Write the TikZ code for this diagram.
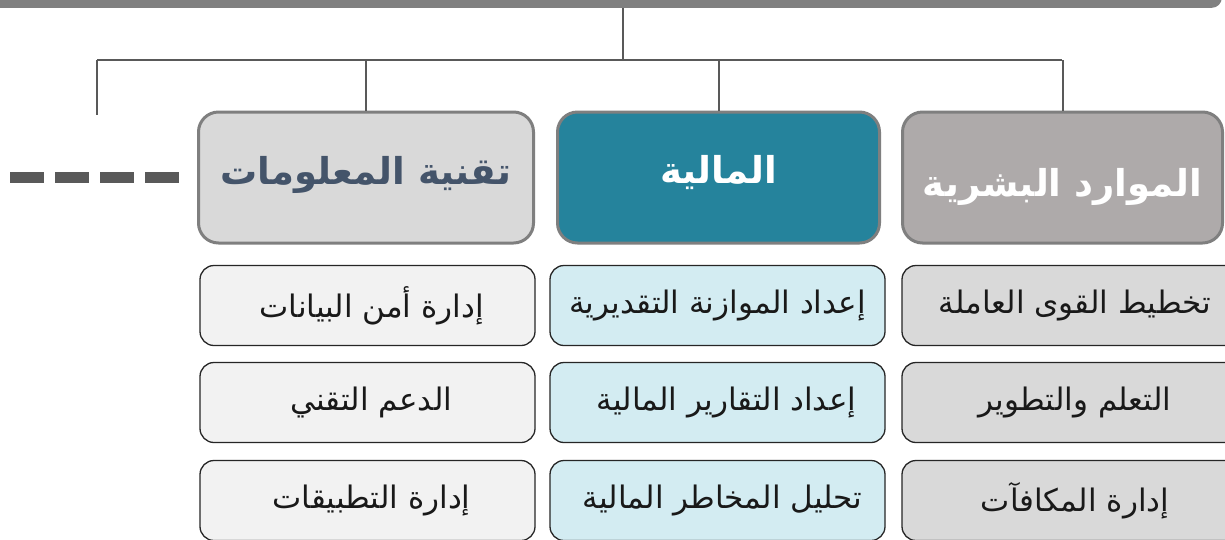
\documentclass[tikz,border=0pt]{standalone}
\usepackage{fontspec}
\setmainfont{DejaVu Sans}
\newfontfamily\arabicfont[Script=Arabic]{DejaVu Sans}
\TeXXeTstate=1
\definecolor{bargray}{HTML}{808080}
\definecolor{linegray}{HTML}{595959}
\definecolor{bordergray}{HTML}{7F7F7F}
\definecolor{itfill}{HTML}{D9D9D9}
\definecolor{fifill}{HTML}{25839C}
\definecolor{hrfill}{HTML}{AEAAAA}
\definecolor{ittext}{HTML}{44546A}
\definecolor{itsub}{HTML}{F2F2F2}
\definecolor{fisub}{HTML}{D3ECF2}
\definecolor{hrsub}{HTML}{D9D9D9}
\definecolor{subborder}{HTML}{262626}
\tikzset{
  mainbox/.style={draw=bordergray, line width=3pt, rounded corners=20pt,
    minimum height=131pt, inner sep=0pt},
  headtext/.style={font=\arabicfont\fontsize{37}{42}\selectfont\bfseries, inner sep=0pt},
  subbox/.style={draw=subborder, line width=1.3pt, rounded corners=14pt,
    minimum height=80pt, inner sep=0pt},
  subtext/.style={font=\arabicfont\fontsize{31}{36}\selectfont, text=black!90, inner sep=0pt},
  conn/.style={draw=linegray, line width=2pt},
}
\begin{document}
\begin{tikzpicture}[x=1pt,y=-1pt]
\clip (0,0) rectangle (1225,539);
\fill[white] (0,0) rectangle (1225,539);
% top bar
\node[fill=bargray, rounded corners=10pt, minimum width=1260pt, minimum height=40pt, inner sep=0pt, anchor=south east] (bar) at (1222,8) {};
% main boxes
\node[mainbox, fill=itfill, minimum width=335pt] (it) at (366,177.5) {};
\node[mainbox, fill=fifill, minimum width=322pt] (fi) at (718.5,177.5) {};
\node[mainbox, fill=hrfill, minimum width=320pt] (hr) at (1062.5,177.5) {};
\node[headtext, text=ittext] (itt) at ([yshift=3pt]it.center) {\beginR تقنية المعلومات\endR};
\node[headtext, text=white] (fit) at ([yshift=5pt]fi.center) {\beginR المالية\endR};
\node[headtext, text=white] (hrt) at ([yshift=-9pt]hr.center) {\beginR الموارد البشرية\endR};
% connectors
\coordinate (j) at (623,60);
\coordinate (jl) at (97,60);
\coordinate (jr) at (1062,60);
\coordinate (free) at (97,115);
\draw[conn] (bar.south -| j) -- (j);
\draw[conn] (jl) -- (jr);
\draw[conn] (jl) -- (free);
\draw[conn] (it.north |- j) -- (it.north);
\draw[conn] (fi.north |- j) -- (fi.north);
\draw[conn] (hr.north |- j) -- (hr.north);
% dashed continuation
\coordinate (dstart) at (180,177);
\coordinate (dend) at (10,177);
\draw[draw=linegray, line width=11pt, dash pattern=on 34pt off 11pt] (dend) -- (dstart);
% sub boxes IT
\node[subbox, fill=itsub, minimum width=335pt] (it1) at (367.5,305.5) {};
\node[subbox, fill=itsub, minimum width=335pt] (it2) at (367.5,402.5) {};
\node[subbox, fill=itsub, minimum width=335pt] (it3) at (367.5,500.5) {};
\node[subtext] at ([xshift=4pt]it1.center) {\beginR إدارة أمن البيانات\endR};
\node[subtext] at ([xshift=4pt]it2.center) {\beginR الدعم التقني\endR};
\node[subtext] at ([xshift=4pt]it3.center) {\beginR إدارة التطبيقات\endR};
% sub boxes Finance
\node[subbox, fill=fisub, minimum width=335pt] (fi1) at (717.5,305.5) {};
\node[subbox, fill=fisub, minimum width=335pt] (fi2) at (717.5,402.5) {};
\node[subbox, fill=fisub, minimum width=335pt] (fi3) at (717.5,500.5) {};
\node[subtext] at ([xshift=0pt]fi1.center) {\beginR إعداد الموازنة التقديرية\endR};
\node[subtext] at ([xshift=9pt]fi2.center) {\beginR إعداد التقارير المالية\endR};
\node[subtext] at ([xshift=5pt]fi3.center) {\beginR تحليل المخاطر المالية\endR};
% sub boxes HR
\node[subbox, fill=hrsub, minimum width=346pt] (hr1) at (1075,305.5) {};
\node[subbox, fill=hrsub, minimum width=346pt] (hr2) at (1075,402.5) {};
\node[subbox, fill=hrsub, minimum width=346pt] (hr3) at (1075,500.5) {};
\node[subtext] at (hr1.center) {\beginR تخطيط القوى العاملة\endR};
\node[subtext] at (hr2.center) {\beginR التعلم والتطوير\endR};
\node[subtext] at (hr3.center) {\beginR إدارة المكافآت\endR};
\end{tikzpicture}
\end{document}
